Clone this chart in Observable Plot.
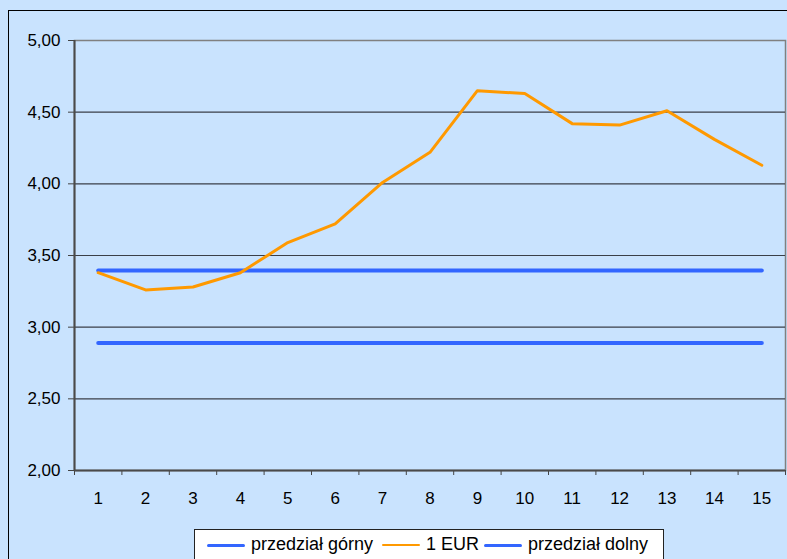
<!DOCTYPE html>
<html>
<head>
<meta charset="utf-8">
<script src="https://cdn.jsdelivr.net/npm/d3@7"></script>
<script src="https://cdn.jsdelivr.net/npm/@observablehq/plot@0.6"></script>
<style>
  html, body { margin: 0; padding: 0; }
  body { font-family: "Liberation Sans", Arial, sans-serif; }
  #wrap { position: relative; width: 787px; height: 559px; background: #C9E3FE; overflow: hidden; }
  #border { position: absolute; left: 8px; top: 10px; width: 900px; height: 700px; border-left: 1px solid #000; border-top: 1px solid #000; box-sizing: border-box; }
  #chart { position: absolute; left: 0; top: 0; }
  #legend { position: absolute; left: 194px; top: 529px; width: 470px; height: 40px; background: #fff; border: 1px solid #222; box-sizing: border-box; font-size: 18px; color: #000; }
  #legend .sw { position: absolute; top: 14px; width: 38px; height: 0; border-top: 3.5px solid; border-radius: 2px; }
  #legend .lb { position: absolute; top: 4px; white-space: nowrap; line-height: 20px; }
</style>
</head>
<body>
<div id="wrap">
  <div id="border"></div>
  <div id="chart"></div>
  <div id="legend"></div>
</div>
<script>
const categories = [1, 2, 3, 4, 5, 6, 7, 8, 9, 10, 11, 12, 13, 14, 15];
const eur = [3.38, 3.26, 3.28, 3.38, 3.59, 3.72, 4.01, 4.22, 4.65, 4.63, 4.42, 4.41, 4.51, 4.31, 4.13];
const upper = [3.395, 3.395, 3.395, 3.395, 3.395, 3.395, 3.395, 3.395, 3.395, 3.395, 3.395, 3.395, 3.395, 3.395, 3.395];
const lower = [2.89, 2.89, 2.89, 2.89, 2.89, 2.89, 2.89, 2.89, 2.89, 2.89, 2.89, 2.89, 2.89, 2.89, 2.89];
const yTicks = [2.0, 2.5, 3.0, 3.5, 4.0, 4.5, 5.0];
const gridValues = [2.5, 3.0, 3.5, 4.0, 4.5];
const seriesNames = ["przedział górny", "1 EUR", "przedział dolny"];
const seriesColors = ["#3366FF", "#FF9900", "#3366FF"];

const bounds = categories.map(c => c - 0.5).concat([categories[categories.length - 1] + 0.5]);
const rows = (vals) => categories.map((c, i) => ({x: c, y: vals[i]}));

const plot = Plot.plot({
  width: 787,
  height: 525,
  marginLeft: 74,
  marginRight: 2,
  marginTop: 40,
  marginBottom: 55,
  style: {background: "transparent", fontFamily: "'Liberation Sans', Arial, sans-serif", fontSize: "17px", color: "#000"},
  x: {type: "linear", domain: [0.5, 15.5]},
  y: {domain: [2, 5]},
  marks: [
    Plot.frame({stroke: "#808080", strokeWidth: 1.5}),
    Plot.ruleY(gridValues, {stroke: "#3a3f48", strokeWidth: 1.2}),
    Plot.axisY({ticks: yTicks, tickFormat: d => d.toFixed(2).replace(".", ","), tickSize: 6, tickPadding: 8, stroke: "#444", fill: "#000", label: null, fontSize: 17}),
    Plot.axisX({ticks: bounds, tickFormat: () => "", tickSize: 5, stroke: "#444", label: null}),
    Plot.axisX({ticks: categories, tickFormat: d => String(d), tickSize: 0, tickPadding: 21, fill: "#000", label: null, fontSize: 17}),
    Plot.ruleX([0.5], {stroke: "#4a4a4a", strokeWidth: 2}),
    Plot.ruleY([2], {stroke: "#4a4a4a", strokeWidth: 2}),
    Plot.line(rows(upper), {x: "x", y: "y", stroke: seriesColors[0], strokeWidth: 4}),
    Plot.line(rows(lower), {x: "x", y: "y", stroke: seriesColors[2], strokeWidth: 4}),
    Plot.line(rows(eur), {x: "x", y: "y", stroke: seriesColors[1], strokeWidth: 3})
  ]
});
document.getElementById("chart").appendChild(plot);

// legend
const legend = document.getElementById("legend");
const swX = [12, 187, 289];
const lbX = [56, 231, 333];
seriesNames.forEach((name, i) => {
  const sw = document.createElement("div");
  sw.className = "sw";
  sw.style.left = swX[i] + "px";
  sw.style.borderTopColor = seriesColors[i];
  if (i === 1) sw.style.borderTopWidth = "2.5px";
  legend.appendChild(sw);
  const lb = document.createElement("div");
  lb.className = "lb";
  lb.style.left = lbX[i] + "px";
  lb.textContent = name;
  legend.appendChild(lb);
});
</script>
</body>
</html>
